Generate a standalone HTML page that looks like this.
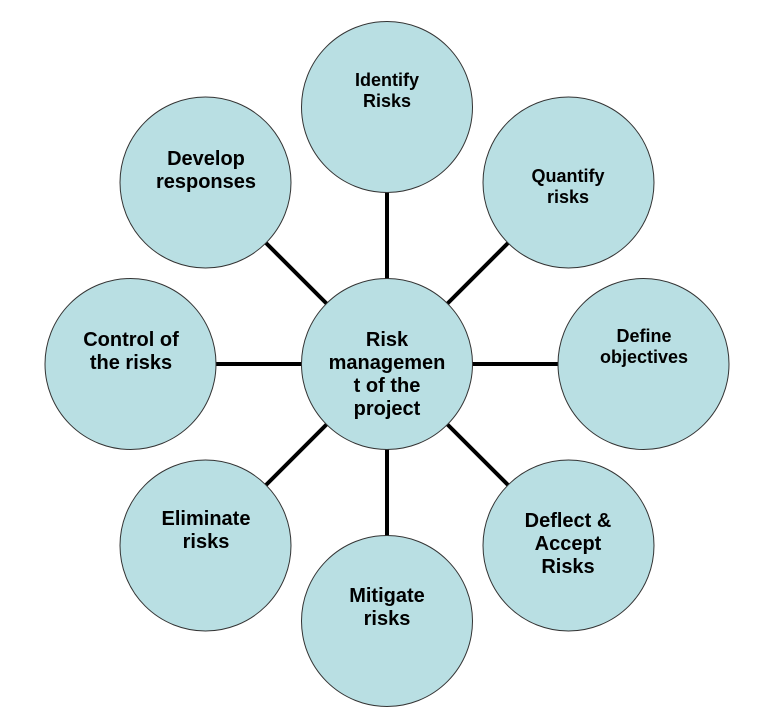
<!DOCTYPE html>
<html><head><meta charset="utf-8"><style>html,body{margin:0;padding:0;background:#fff}svg{display:block}text{font-family:"Liberation Sans",Arial,sans-serif;font-weight:bold;fill:#000;text-anchor:middle}.s{font-size:18px}.l{font-size:20px}</style></head><body>
<svg width="775" height="718" viewBox="0 0 775 718">
<g stroke="#000" stroke-width="4" fill="none">
<line x1="387" y1="192" x2="387" y2="279"/>
<line x1="508" y1="243" x2="447" y2="304"/>
<line x1="558" y1="364" x2="472" y2="364"/>
<line x1="508" y1="485" x2="447" y2="424"/>
<line x1="387" y1="536" x2="387" y2="449"/>
<line x1="266" y1="485" x2="327" y2="424"/>
<line x1="216" y1="364" x2="302" y2="364"/>
<line x1="266" y1="243" x2="327" y2="304"/>
</g>
<g fill="#b9dfe3" stroke="#333" stroke-width="1">
<circle cx="387" cy="107" r="85.5"/>
<circle cx="568.5" cy="182.5" r="85.5"/>
<circle cx="643.5" cy="364" r="85.5"/>
<circle cx="568.5" cy="545.5" r="85.5"/>
<circle cx="387" cy="621" r="85.5"/>
<circle cx="205.5" cy="545.5" r="85.5"/>
<circle cx="130.5" cy="364" r="85.5"/>
<circle cx="205.5" cy="182.5" r="85.5"/>
<circle cx="387" cy="364" r="85.5"/>
</g>
<text class="s" x="387" y="86">Identify</text><text class="s" x="387" y="107">Risks</text>
<text class="s" x="568" y="182">Quantify</text><text class="s" x="568" y="203">risks</text>
<text class="s" x="644" y="342">Define</text><text class="s" x="644" y="363">objectives</text>
<text class="l" x="568" y="527">Deflect &amp;</text><text class="l" x="568" y="550">Accept</text><text class="l" x="568" y="573">Risks</text>
<text class="l" x="387" y="602">Mitigate</text><text class="l" x="387" y="625">risks</text>
<text class="l" x="206" y="525">Eliminate</text><text class="l" x="206" y="548">risks</text>
<text class="l" x="131" y="346">Control of</text><text class="l" x="131" y="369">the risks</text>
<text class="l" x="206" y="165">Develop</text><text class="l" x="206" y="188">responses</text>
<text class="l" x="387" y="346">Risk</text><text class="l" x="387" y="369">managemen</text><text class="l" x="387" y="392">t of the</text><text class="l" x="387" y="415">project</text>
</svg>
</body></html>
